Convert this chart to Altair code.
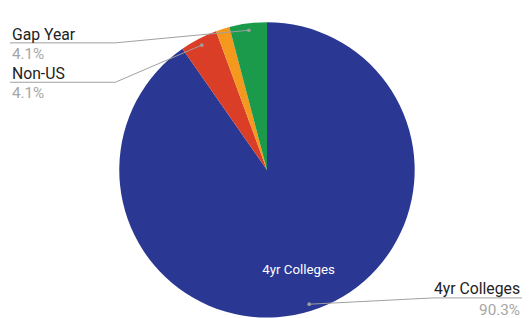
import math
import altair as alt
import pandas as pd

# ---- data ----
categories = ["4yr Colleges", "Non-US", "Other", "Gap Year"]
values = [90.3, 4.1, 1.5, 4.1]
pct_labels = ["90.3%", "4.1%", "1.5%", "4.1%"]
colors = ["#2A3894", "#DB3E27", "#F4991D", "#1A9A4A"]

W, H = 522, 310
CX, CY, R = 263, 162, 150
DOT_R = 143
FONT = "Roboto"

df = pd.DataFrame({"cat": categories, "value": values,
                   "idx": list(range(len(categories))), "pct": pct_labels})

# mid angle of each slice (clockwise from 12 o'clock), derived from data
total = sum(values)
mids = {}
acc = 0.0
for c, v in zip(categories, values):
    mids[c] = (acc + v / 2) / total * 2 * math.pi
    acc += v


def polar(cat, r):
    a = mids[cat]
    return CX + r * math.sin(a), CY - r * math.cos(a)


# label layout: (cat, text x, align, name baseline, pct baseline, line y, line x0, elbow x)
layout = [
    ("Gap Year", 4, "left", 30, 49, 33, 2, 109),
    ("Non-US", 4, "left", 70, 89, 73, 2, 109),
    ("4yr Colleges", 520, "right", 288, 309, 292, 522, 432),
]

names, pcts, segs, dots = [], [], [], []
for cat, tx, al, nb, pb, ly, lx0, lx1 in layout:
    names.append({"x": tx, "y": nb, "t": cat, "align": al})
    pcts.append({"x": tx, "y": pb,
                 "t": pct_labels[categories.index(cat)], "align": al})
    dx, dy = polar(cat, DOT_R)
    segs.append({"x": lx0, "y": ly, "x2": lx1, "y2": ly})
    segs.append({"x": lx1, "y": ly, "x2": dx, "y2": dy})
    dots.append({"x": dx, "y": dy})

ix, iy = polar("4yr Colleges", 107)
inner = pd.DataFrame([{"x": ix, "y": iy, "t": "4yr Colleges"}])

pie = alt.Chart(df).mark_arc(radius=R).encode(
    theta=alt.Theta("value:Q", stack=True),
    order=alt.Order("idx:Q"),
    color=alt.Color("cat:N", scale=alt.Scale(domain=categories, range=colors), legend=None),
    x=alt.value(CX),
    y=alt.value(CY),
)

inner_txt = alt.Chart(inner).mark_text(font=FONT, fontSize=13.5, color="white",
                                       baseline="middle", align="center").encode(
    x=alt.X("x:Q", scale=None), y=alt.Y("y:Q", scale=None), text="t:N")

rules = alt.Chart(pd.DataFrame(segs)).mark_rule(color="#9e9e9e", strokeWidth=1).encode(
    x=alt.X("x:Q", scale=None), y=alt.Y("y:Q", scale=None),
    x2="x2:Q", y2="y2:Q")

dot_layer = alt.Chart(pd.DataFrame(dots)).mark_circle(color="#9e9e9e", size=14, opacity=1).encode(
    x=alt.X("x:Q", scale=None), y=alt.Y("y:Q", scale=None))

name_df = pd.DataFrame(names)
pct_df = pd.DataFrame(pcts)


def text_layer(d, color, size):
    layers = []
    for al in ["left", "right"]:
        sub = d[d["align"] == al]
        if len(sub):
            layers.append(alt.Chart(sub).mark_text(font=FONT, fontSize=size, color=color,
                                                   align=al, baseline="alphabetic").encode(
                x=alt.X("x:Q", scale=None), y=alt.Y("y:Q", scale=None), text="t:N"))
    return layers


layers = [pie, inner_txt, rules, dot_layer] + text_layer(name_df, "#222222", 16) + text_layer(pct_df, "#a6a6a6", 15.5)

chart = alt.layer(*layers).properties(
    width=W, height=H, padding=0, autosize=alt.AutoSizeParams(type="none")
).configure_view(strokeWidth=0)

chart.save("out.html", embed_options={"renderer": "svg", "actions": False})
